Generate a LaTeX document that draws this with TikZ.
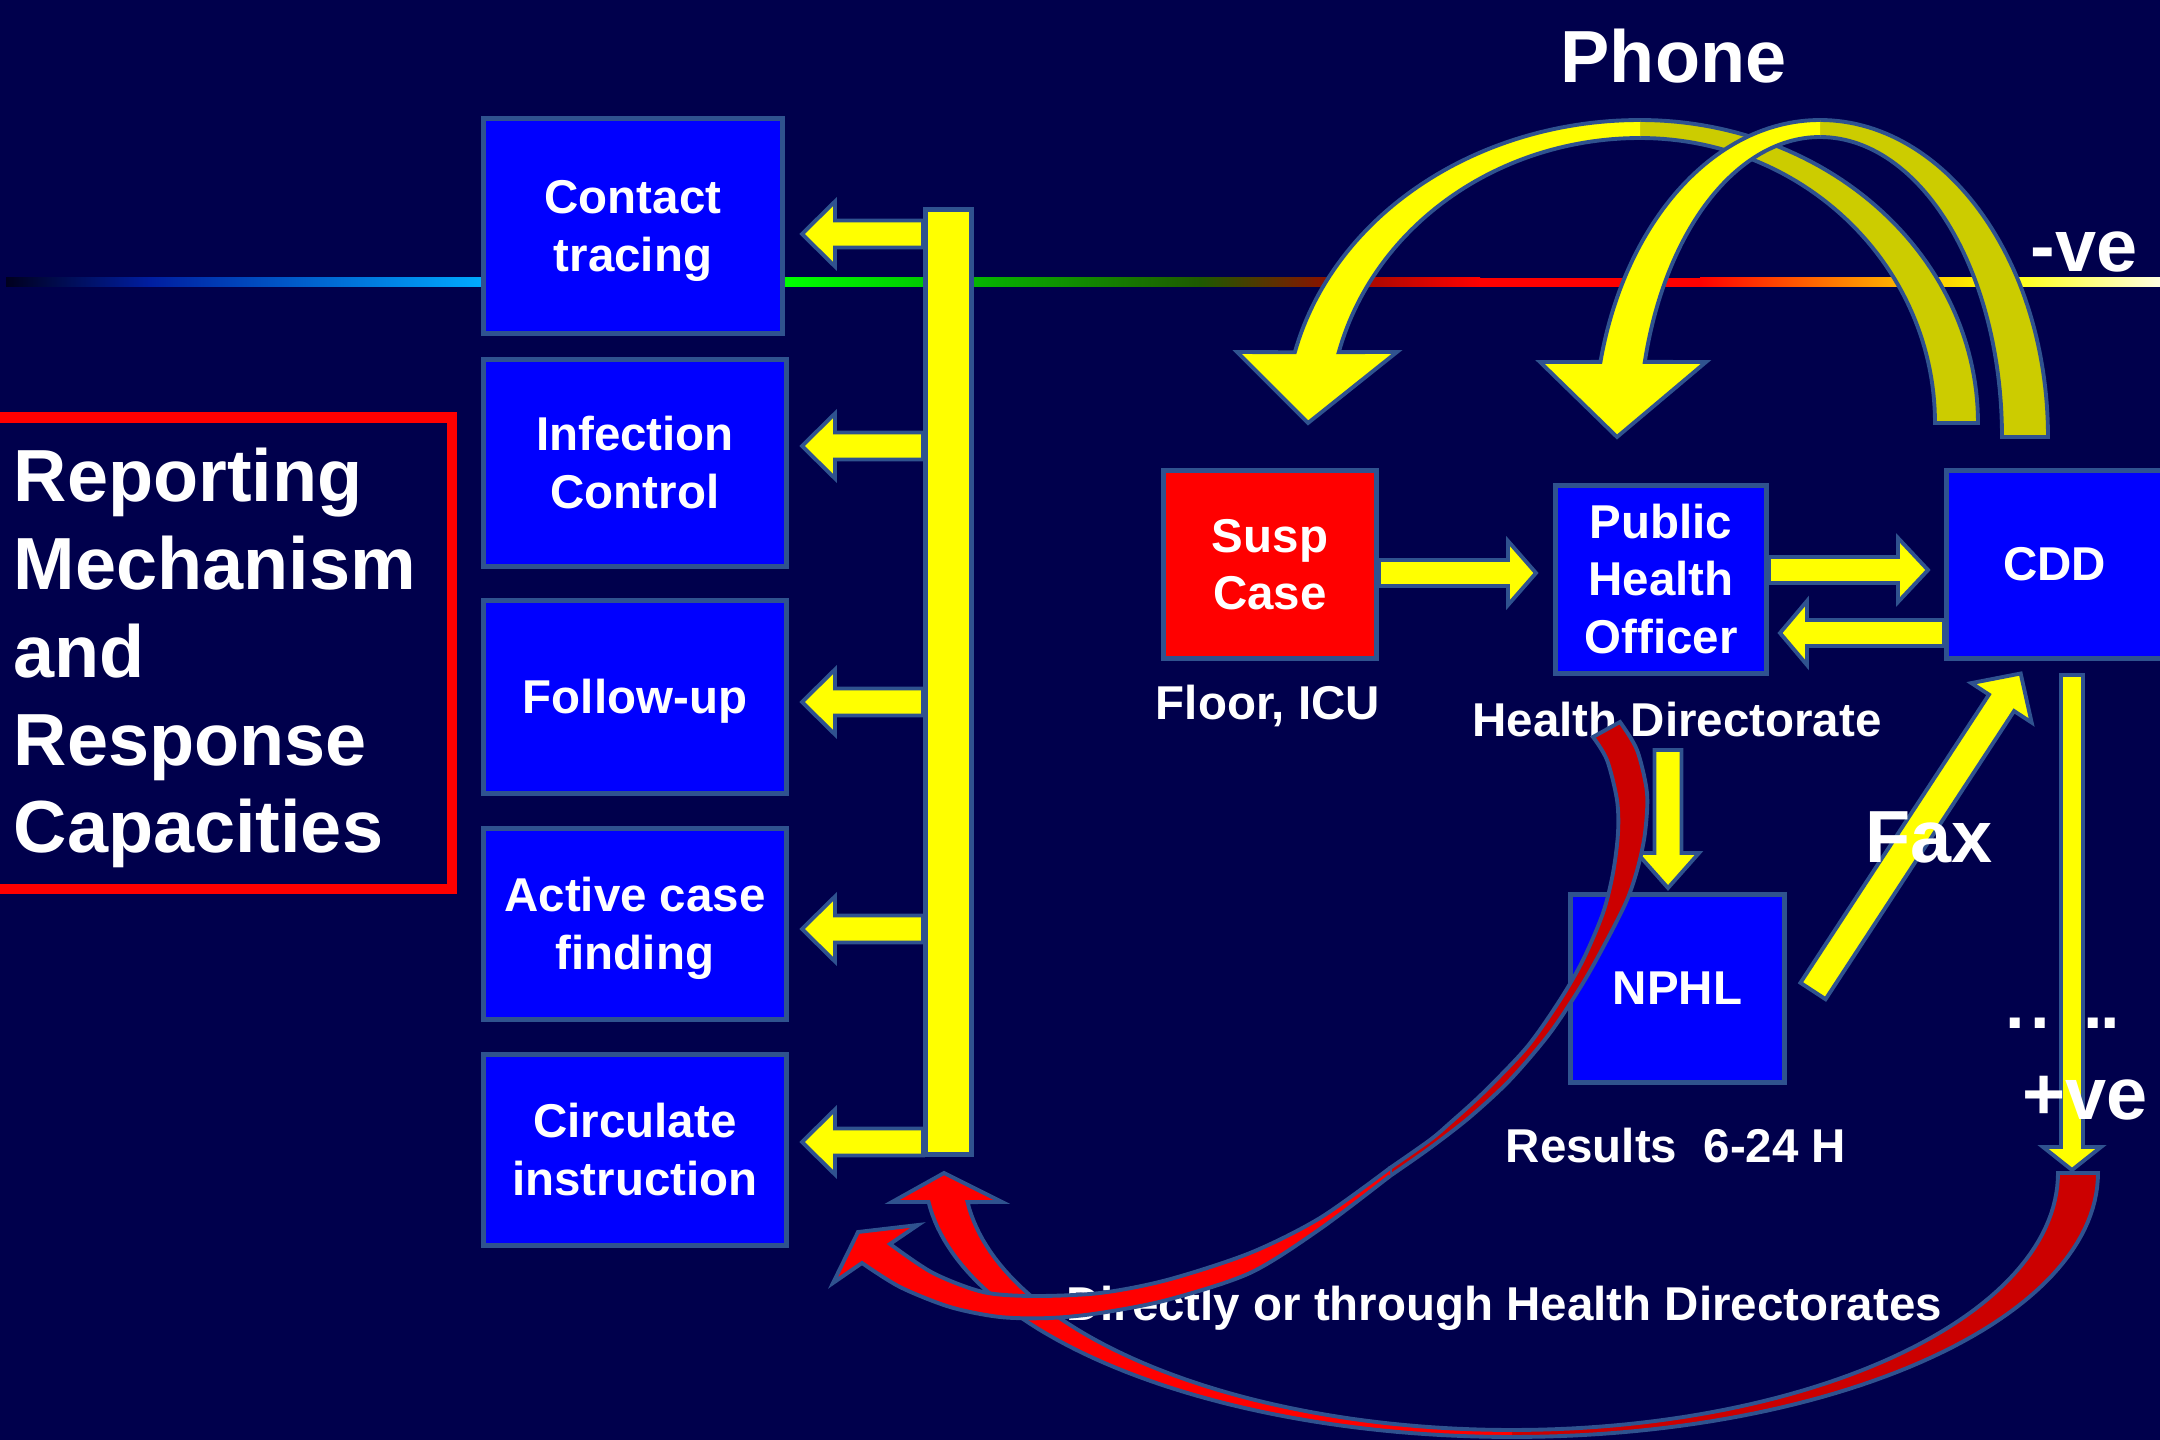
\documentclass[tikz,border=0pt]{standalone}
\usepackage{fontspec}
\setmainfont{Liberation Sans}
\usetikzlibrary{calc}
\frenchspacing

\definecolor{bg}{RGB}{0,0,76}
\definecolor{boxblue}{RGB}{0,0,255}
\definecolor{edge}{RGB}{47,82,143}
\definecolor{yel}{RGB}{255,255,0}
\definecolor{dyel}{RGB}{204,204,0}
\definecolor{rd}{RGB}{255,0,0}
\definecolor{drd}{RGB}{204,0,0}

\newcommand{\fbody}{\fontsize{13.5}{16.4}\selectfont\bfseries}
\newcommand{\fbig}{\fontsize{21}{25}\selectfont\bfseries}
\newcommand{\pptstrut}{\vrule width 0pt height 0.905em depth 0.212em}

% straight block arrow: [style]{tail}{tip}{shaft width}{head width}{head length}, widths in px
\newcommand{\blockarrow}[6][]{%
  \path let \p1=(#2), \p2=(#3) in \pgfextra{%
    \pgfmathsetmacro{\baang}{atan2(\y2-\y1,\x2-\x1)}%
    \pgfmathsetmacro{\balen}{veclen(\x2-\x1,\y2-\y1)}%
    \xdef\baang{\baang}\xdef\balen{\balen}%
    \xdef\bax{\x1}\xdef\bay{\y1}};
  \begin{scope}[shift={(\bax,\bay)}, rotate=\baang]
    \draw[arrowshape,#1]
      (0pt,{-#4*0.142264pt}) -- ({\balen pt-#6*0.284528pt},{-#4*0.142264pt})
      -- ({\balen pt-#6*0.284528pt},{-#5*0.142264pt}) -- (\balen pt,0pt)
      -- ({\balen pt-#6*0.284528pt},{#5*0.142264pt})
      -- ({\balen pt-#6*0.284528pt},{#4*0.142264pt}) -- (0pt,{#4*0.142264pt}) -- cycle;
  \end{scope}}

\begin{document}
\begin{tikzpicture}[x=0.01cm, y=-0.01cm,
  box/.style={draw=edge, line width=1.4pt, fill=boxblue, text=white, font=\fbody, align=center, inner sep=0pt},
  redbox/.style={box, fill=rd},
  trunk/.style={draw=edge, line width=1.4pt, fill=yel, inner sep=0pt},
  lbl/.style={text=white, font=\fbody, inner sep=0pt},
  biglbl/.style={text=white, font=\fbig, inner sep=0pt},
  arrowshape/.style={draw=edge, line width=1.1pt, fill=yel, line join=miter, miter limit=8},
  rim/.style={draw=edge, line width=1.1pt, line join=miter, miter limit=8},
]
\useasboundingbox (0,0) rectangle (2160,1440);
\fill[bg] (0,0) rectangle (2160,1440);

% colour band across the slide
\shade[left color={rgb,255:red,0;green,0;blue,30}, right color={rgb,255:red,0;green,30;blue,160}] (6,278) rectangle (150,287);
\shade[left color={rgb,255:red,0;green,30;blue,160}, right color={rgb,255:red,0;green,170;blue,255}] (150,278) rectangle (482,287);
\shade[left color={rgb,255:red,0;green,255;blue,0}, right color={rgb,255:red,0;green,200;blue,0}] (785,278) rectangle (930,287);
\shade[left color={rgb,255:red,0;green,200;blue,0}, right color={rgb,255:red,30;green,90;blue,0}] (930,278) rectangle (1200,287);
\shade[left color={rgb,255:red,30;green,90;blue,0}, right color={rgb,255:red,150;green,10;blue,0}] (1200,278) rectangle (1340,287);
\shade[left color={rgb,255:red,150;green,10;blue,0}, right color=rd] (1340,278) rectangle (1480,287);
\fill[rd] (1479,278) rectangle (1701,287);
\shade[left color=rd, right color={rgb,255:red,255;green,180;blue,0}] (1700,278) rectangle (1900,287);
\shade[left color={rgb,255:red,255;green,180;blue,0}, right color=yel] (1900,278) rectangle (2000,287);
\shade[left color=yel, right color={rgb,255:red,255;green,255;blue,225}] (2000,278) rectangle (2160,287);

% title frame
\draw[draw=rd, line width=2.85pt] (-20,417.5) rectangle (452,889);
\node[biglbl, align=left, anchor=base west] (title) at (13,853)
  {Reporting\\Mechanism\\and\\Response\\Capacities};

% response column
\node[box, minimum width=2.99cm, minimum height=2.15cm] (ct) at (633,226) {\pptstrut Contact\\\pptstrut tracing};
\node[box, minimum width=3.03cm, minimum height=2.07cm] (ic) at (635,463) {\pptstrut Infection\\\pptstrut Control};
\node[box, minimum width=3.03cm, minimum height=1.93cm] (fu) at (635,697) {\pptstrut Follow-up};
\node[box, minimum width=3.03cm, minimum height=1.91cm] (ac) at (635,924) {\pptstrut Active case\\\pptstrut finding};
\node[box, minimum width=3.03cm, minimum height=1.90cm] (ci) at (635,1150) {\pptstrut Circulate\\\pptstrut instruction};

\node[trunk, minimum width=0.46cm, minimum height=9.45cm] (bar) at (948.5,682) {};
\blockarrow{bar.west |- 0,234}{802,234}{27}{65}{33}
\blockarrow{bar.west |- 0,446}{802,446}{27}{65}{33}
\blockarrow{bar.west |- 0,702}{802,702}{27}{65}{33}
\blockarrow{bar.west |- 0,929}{802,929}{27}{65}{33}
\blockarrow{bar.west |- 0,1142}{802,1142}{27}{65}{33}
\node[trunk, minimum width=0.46cm, minimum height=9.45cm] at (bar) {};

% labels under the flow
\node[lbl, anchor=base] (floor) at (1268,720) {Floor, ICU};
\node[lbl, anchor=base] (hd) at (1677,737) {Health Directorate};
\node[lbl, anchor=base] (res) at (1676,1162) {Results\ \ 6-24 H};
\node[lbl, anchor=base] (direct) at (1504,1320) {Directly or through Health Directorates};
\node[lbl, anchor=base west, font=\fontsize{20}{24}\selectfont\bfseries] (dots) at (2005,1028)
  {.\hspace{1.6pt}.\hspace{2.1pt}.\hspace{1.6pt}.\hspace{-0.7pt}.};

% reporting chain
\node[redbox, minimum width=2.13cm, minimum height=1.88cm] (susp) at (1270,564.5) {\pptstrut Susp\\\pptstrut Case};
\node[box, minimum width=2.11cm, minimum height=1.88cm] (pho) at (1661,579.5) {\pptstrut Public\\\pptstrut Health\\\pptstrut Officer};
\node[box, minimum width=2.16cm, minimum height=1.88cm] (cdd) at (2054.5,564.5) {\pptstrut CDD};
\node[box, minimum width=2.14cm, minimum height=1.88cm] (nphl) at (1677.5,988.5) {\pptstrut NPHL};

\blockarrow{susp.east |- 0,573}{1536,573}{26}{64}{28}
\blockarrow{pho.east |- 0,570}{1928,570}{26}{64}{30}
\blockarrow{cdd.west |- 0,633}{1780,633}{26}{64}{27}
\blockarrow{1668,750}{1668,888}{27}{62}{35}
\blockarrow{1813,991}{2021,673}{30}{72}{35}
\blockarrow{2072,675}{2072,1170}{22}{58}{23}

\node[biglbl, anchor=base west] (fax) at (1865,863) {Fax};
\node[biglbl, anchor=base west] (pos) at (2022,1119) {+ve};
\node[biglbl, anchor=base west] (neg) at (2030,272) {-ve};
\node[biglbl, anchor=base west] (phone) at (1560,83) {Phone};

% phone call-backs from CDD: back face, then front face with its head
\fill[dyel] plot[domain=-90:0, samples=60] ({1640+338*cos(\x)},{423+303*sin(\x)})
  -- plot[domain=0:-90, samples=60] ({1640+295*cos(\x)},{423+285*sin(\x)}) -- cycle;
\draw[rim] plot[domain=-90:0, samples=60] ({1640+338*cos(\x)},{423+303*sin(\x)})
  -- plot[domain=0:-90, samples=60] ({1640+295*cos(\x)},{423+285*sin(\x)});
\fill[yel] plot[domain=-90:-166.5, samples=60] ({1640+355*cos(\x)},{423+303*sin(\x)})
  -- (1237,352) -- (1308,423) -- (1397,352)
  -- plot[domain=-165.6:-90, samples=60] ({1640+311*cos(\x)},{423+285*sin(\x)}) -- cycle;
\draw[rim] plot[domain=-90:-166.5, samples=60] ({1640+355*cos(\x)},{423+303*sin(\x)})
  -- (1237,352) -- (1308,423) -- (1397,352)
  -- plot[domain=-165.6:-90, samples=60] ({1640+311*cos(\x)},{423+285*sin(\x)});

\fill[dyel] plot[domain=-90:0, samples=60] ({1820+228*cos(\x)},{437+317*sin(\x)})
  -- plot[domain=0:-90, samples=60] ({1820+182*cos(\x)},{437+300*sin(\x)}) -- cycle;
\draw[rim] plot[domain=-90:0, samples=60] ({1820+228*cos(\x)},{437+317*sin(\x)})
  -- plot[domain=0:-90, samples=60] ({1820+182*cos(\x)},{437+300*sin(\x)});
\fill[yel] plot[domain=-90:-166.3, samples=60] ({1820+226*cos(\x)},{437+317*sin(\x)})
  -- (1540,362) -- (1617,437) -- (1706,362)
  -- plot[domain=-165.5:-90, samples=60] ({1820+181*cos(\x)},{437+300*sin(\x)}) -- cycle;
\draw[rim] plot[domain=-90:-166.3, samples=60] ({1820+226*cos(\x)},{437+317*sin(\x)})
  -- (1540,362) -- (1617,437) -- (1706,362)
  -- plot[domain=-165.5:-90, samples=60] ({1820+181*cos(\x)},{437+300*sin(\x)});

% positive result: CDD back to the response column
\fill[drd] plot[domain=0:90, samples=60] ({1512+586*cos(\x)},{1173+264*sin(\x)})
  -- plot[domain=90:0, samples=60] ({1512+546*cos(\x)},{1173+257*sin(\x)}) -- cycle;
\draw[rim] plot[domain=90:0, samples=60] ({1512+586*cos(\x)},{1173+264*sin(\x)})
  -- plot[domain=0:90, samples=60] ({1512+546*cos(\x)},{1173+257*sin(\x)});
\fill[rd] plot[domain=90:173.7, samples=60] ({1512+587*cos(\x)},{1173+264*sin(\x)})
  -- (892,1202) -- (944,1173) -- (1002,1202)
  -- plot[domain=173.5:90, samples=60] ({1512+548*cos(\x)},{1173+257*sin(\x)}) -- cycle;
\draw[rim] plot[domain=90:173.7, samples=60] ({1512+587*cos(\x)},{1173+264*sin(\x)})
  -- (892,1202) -- (944,1173) -- (1002,1202)
  -- plot[domain=173.5:90, samples=60] ({1512+548*cos(\x)},{1173+257*sin(\x)});

% health directorate back to the response column
\draw[rim, fill=drd] plot[smooth] coordinates {(1620,722) (1637,750) (1647,793) (1645,833) (1638,867) (1627,900) (1607,940) (1583,983) (1550,1033) (1510,1080) (1470,1117) (1430,1148) (1390,1176)}
  -- plot[smooth] coordinates {(1390,1168) (1430,1140) (1450,1123) (1483,1093) (1527,1047) (1560,1000) (1583,960) (1603,913) (1613,873) (1618,833) (1617,800) (1607,760) (1593,737)} -- cycle;
\fill[rd] plot[smooth] coordinates {(1390,1176) (1320,1229) (1250,1273) (1167,1300) (1100,1313) (1050,1318) (1000,1317) (950,1307) (900,1287) (862,1263)}
  -- (833,1283) -- (858,1232) -- (918,1225)
  -- plot[smooth] coordinates {(890,1244) (933,1273) (983,1292) (1033,1296) (1100,1293) (1167,1280) (1250,1253) (1320,1218) (1390,1168)} -- cycle;
\draw[rim] plot[smooth] coordinates {(1390,1176) (1320,1229) (1250,1273) (1167,1300) (1100,1313) (1050,1318) (1000,1317) (950,1307) (900,1287) (862,1263)}
  -- (833,1283) -- (858,1232) -- (918,1225)
  -- plot[smooth] coordinates {(890,1244) (933,1273) (983,1292) (1033,1296) (1100,1293) (1167,1280) (1250,1253) (1320,1218) (1390,1168)};
\end{tikzpicture}
\end{document}
